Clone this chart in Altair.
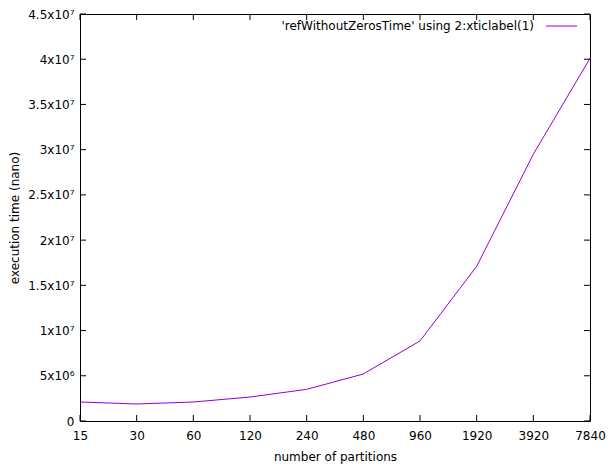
import altair as alt
import pandas as pd

partitions = ["15", "30", "60", "120", "240", "480", "960", "1920", "3920", "7840"]
exec_time = [2.1e6, 1.88e6, 2.1e6, 2.65e6, 3.5e6, 5.2e6, 8.85e6, 17.1e6, 29.5e6, 40.1e6]
y_ticks = [0, 5e6, 1e7, 1.5e7, 2e7, 2.5e7, 3e7, 3.5e7, 4e7, 4.5e7]
legend_label = ["'refWithoutZerosTime' using 2:xticlabel(1)"]

W, H = 510, 407
COLOR = "#9400d3"
FONT = "DejaVu Sans"

df = pd.DataFrame({"p": partitions, "t": exec_time})
yt = pd.DataFrame({"v": y_ticks})
xt = pd.DataFrame({"p": partitions})

xscale = alt.Scale(type="point", padding=0)
yscale = alt.Scale(domain=[0, 4.5e7], nice=False)

label_expr = ("datum.value == 0 ? '0' : (datum.value < 1e7 ? (datum.value/1e6) + 'x10\u2076' "
              ": (datum.value/1e7) + 'x10\u2077')")

xaxis = alt.Axis(title="number of partitions", labelAngle=0, tickSize=0,
                 domain=False, grid=False, labelPadding=9, titlePadding=10,
                 labelFont=FONT, titleFont=FONT, labelFontSize=12,
                 titleFontSize=12, titleFontWeight="normal",
                 labelColor="#000", titleColor="#000")
yaxis = alt.Axis(title="execution time (nano)", values=y_ticks, tickSize=0,
                 domain=False, grid=False, labelPadding=6, titlePadding=6,
                 labelExpr=label_expr, labelFont=FONT, titleFont=FONT,
                 labelFontSize=12, titleFontSize=12, titleFontWeight="normal",
                 labelColor="#000", titleColor="#000")

line = alt.Chart(df).mark_line(color=COLOR, strokeWidth=1).encode(
    x=alt.X("p:O", sort=partitions, scale=xscale, axis=xaxis),
    y=alt.Y("t:Q", scale=yscale, axis=yaxis),
)

ytick_l = alt.Chart(yt).mark_rule(color="black", strokeWidth=1).encode(
    y=alt.Y("v:Q", scale=yscale, axis=yaxis), x=alt.value(0), x2=alt.value(6))
ytick_r = alt.Chart(yt).mark_rule(color="black", strokeWidth=1).encode(
    y=alt.Y("v:Q", scale=yscale, axis=yaxis), x=alt.value(W - 6), x2=alt.value(W))
xtick_b = alt.Chart(xt).mark_rule(color="black", strokeWidth=1).encode(
    x=alt.X("p:O", sort=partitions, scale=xscale, axis=xaxis), y=alt.value(H - 6), y2=alt.value(H))
xtick_t = alt.Chart(xt).mark_rule(color="black", strokeWidth=1).encode(
    x=alt.X("p:O", sort=partitions, scale=xscale, axis=xaxis), y=alt.value(0), y2=alt.value(6))

leg_df = pd.DataFrame({"label": legend_label})
leg_text = alt.Chart(leg_df).mark_text(align="right", baseline="middle", font=FONT,
                                       fontSize=12, color="black").encode(
    text="label:N", x=alt.value(W - 56), y=alt.value(12))
leg_line = alt.Chart(leg_df).mark_rule(color=COLOR, strokeWidth=1).encode(
    x=alt.value(W - 44), x2=alt.value(W - 13), y=alt.value(12))

chart = alt.layer(line, ytick_l, ytick_r, xtick_b, xtick_t, leg_text, leg_line).properties(
    width=W, height=H,
    autosize=alt.AutoSizeParams(type="none"),
    padding={"left": 72, "top": 6, "right": 16, "bottom": 45},
    background="white",
).configure_view(stroke="black", strokeWidth=1)

chart.save("out.html", embed_options={"renderer": "svg", "actions": False})
